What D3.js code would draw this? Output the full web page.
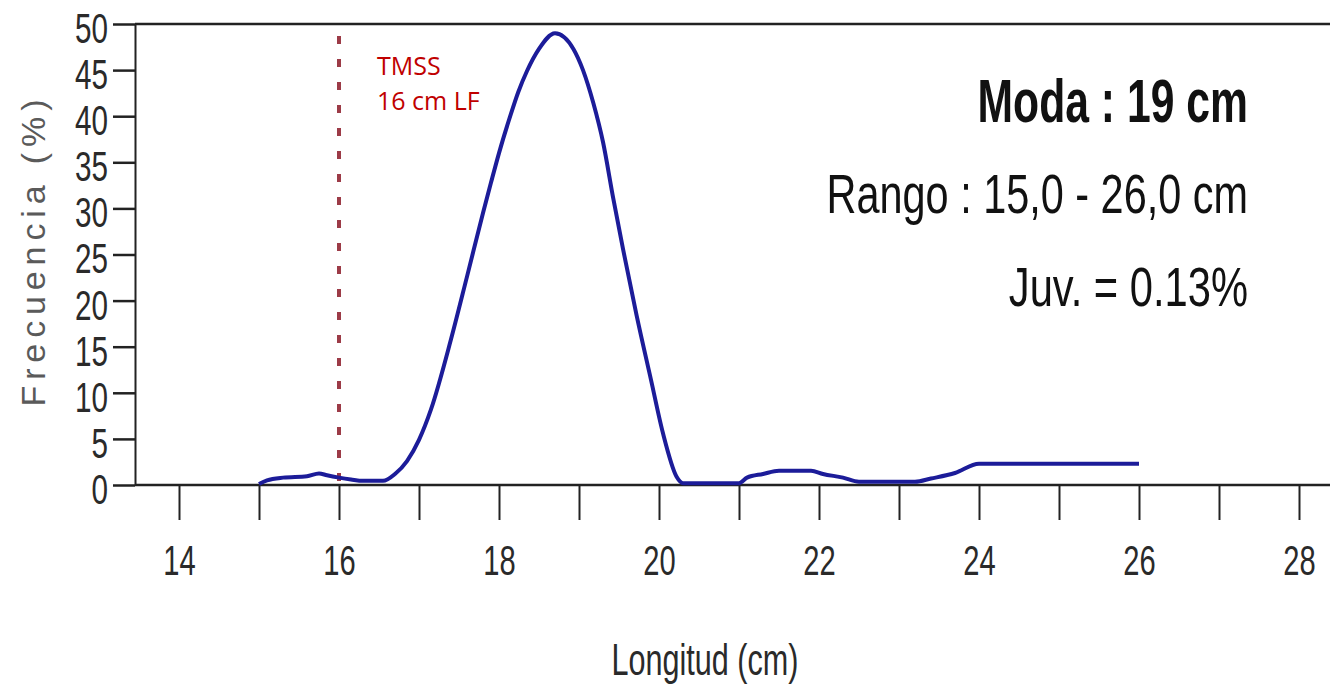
<!DOCTYPE html>
<html>
<head>
<meta charset="utf-8">
<script src="https://cdn.jsdelivr.net/npm/d3@7"></script>
<style>
  html, body { margin: 0; padding: 0; background: #ffffff; }
  svg { display: block; }
</style>
</head>
<body>
<svg id="chart" width="1330" height="685"></svg>
<script>
// ---- data ----
const lengths = [15.0, 15.1, 15.3, 15.6, 15.75, 15.85, 16.0, 16.15, 16.3, 16.55, 16.7, 16.85,
  17.0, 17.15, 17.4, 17.6, 17.8, 17.9, 18.0, 18.14, 18.24, 18.35, 18.5, 18.7, 18.93, 19.05,
  19.18, 19.3, 19.43, 19.55, 19.72, 19.9, 20.05, 20.22, 20.3, 21.0, 21.1, 21.3, 21.5, 21.9,
  22.05, 22.3, 22.5, 23.2, 23.4, 23.7, 24.0, 26.0];
const freqs = [0.1, 0.5, 0.8, 0.95, 1.25, 1.05, 0.8, 0.6, 0.45, 0.45, 1.2, 2.6,
  4.9, 8.2, 15.8, 22.6, 29.5, 32.8, 36.0, 40.0, 42.6, 44.9, 47.3, 49.0, 47.3, 45.0,
  41.4, 37.2, 31.0, 25.6, 18.4, 11.4, 5.6, 0.9, 0.2, 0.2, 0.8, 1.2, 1.55, 1.55,
  1.2, 0.8, 0.35, 0.35, 0.7, 1.3, 2.3, 2.3];
const yTicks = [0, 5, 10, 15, 20, 25, 30, 35, 40, 45, 50];
const xTicks = [14, 15, 16, 17, 18, 19, 20, 21, 22, 23, 24, 25, 26, 27, 28];
const xTickLabels = [14, 16, 18, 20, 22, 24, 26, 28];
const tmss = 16;
const tmssLabels = ["TMSS", "16 cm LF"];
const statLines = ["Moda : 19 cm", "Rango : 15,0 - 26,0 cm", "Juv. = 0.13%"];
const xTitle = "Longitud (cm)";
const yTitle = "Frecuencia (%)";

// ---- layout ----
const svg = d3.select("#chart");
const x = d3.scaleLinear().domain([14, 28]).range([179, 1299]);
const y = d3.scaleLinear().domain([0, 50]).range([485, 24]);
const axisX0 = 135, rightEdge = 1330;
const font = "'Liberation Sans', Arial, sans-serif";

function squeeze(sel, perChar) {
  sel.each(function () {
    const t = d3.select(this);
    const s = t.text();
    if (s.length) t.attr("textLength", perChar * s.length).attr("lengthAdjust", "spacingAndGlyphs");
  });
}

// top frame line
svg.append("line")
  .attr("x1", axisX0).attr("x2", rightEdge)
  .attr("y1", y(50)).attr("y2", y(50))
  .attr("stroke", "#222").attr("stroke-width", 2.5);

// baseline
svg.append("line")
  .attr("x1", axisX0).attr("x2", rightEdge)
  .attr("y1", y(0)).attr("y2", y(0))
  .attr("stroke", "#222").attr("stroke-width", 2.5);

// y axis
const gy = svg.append("g")
  .attr("transform", `translate(${axisX0},0)`)
  .call(d3.axisLeft(y).tickValues(yTicks).tickSizeInner(22).tickSizeOuter(0).tickPadding(5));
gy.select(".domain").attr("stroke", "#222").attr("stroke-width", 2);
gy.selectAll(".tick line").attr("stroke", "#222").attr("stroke-width", 2.5);
gy.selectAll(".tick text")
  .attr("font-family", font).attr("font-size", 42).attr("fill", "#2a2a2a")
  .attr("dy", "0.44em")
  .call(squeeze, 16.5);

// x axis
const gx = svg.append("g")
  .attr("transform", `translate(0,${y(0)})`)
  .call(d3.axisBottom(x).tickValues(xTicks).tickSizeInner(35).tickSizeOuter(0).tickPadding(25)
    .tickFormat(d => xTickLabels.includes(d) ? String(d) : ""));
gx.select(".domain").remove();
gx.selectAll(".tick line").attr("stroke", "#222").attr("stroke-width", 2);
gx.selectAll(".tick text")
  .attr("font-family", font).attr("font-size", 42).attr("fill", "#2a2a2a")
  .call(squeeze, 16.2);

// TMSS dashed line
svg.append("line")
  .attr("x1", x(tmss)).attr("x2", x(tmss))
  .attr("y1", 36).attr("y2", y(0))
  .attr("stroke", "#9c3b47").attr("stroke-width", 4)
  .attr("stroke-dasharray", "8,15");

// curve
const pts = lengths.map((l, i) => [l, freqs[i]]);
const line = d3.line().x(d => x(d[0])).y(d => y(d[1])).curve(d3.curveMonotoneX);
svg.append("path")
  .datum(pts)
  .attr("d", line)
  .attr("fill", "none")
  .attr("stroke", "#1c1c99")
  .attr("stroke-width", 4)
  .attr("stroke-linejoin", "round");

// TMSS labels
svg.selectAll(".tmss")
  .data(tmssLabels)
  .enter().append("text")
  .attr("class", "tmss")
  .attr("x", 377)
  .attr("y", (d, i) => 75 + i * 35)
  .attr("font-family", "'Open Sans', 'Noto Sans', sans-serif")
  .attr("font-size", 25)
  .attr("fill", "#c00000")
  .text(d => d);

// stats text (condensed via horizontal scale)
const statY = [122, 213, 306];
const statSize = [61, 56, 56];
const statScale = [0.70, 0.74, 0.745];
svg.selectAll(".stat")
  .data(statLines)
  .enter().append("text")
  .attr("class", "stat")
  .attr("transform", (d, i) => `translate(1248,${statY[i]}) scale(${statScale[i]},1)`)
  .attr("text-anchor", "end")
  .attr("font-family", font)
  .attr("font-size", (d, i) => statSize[i])
  .attr("font-weight", (d, i) => i === 0 ? "bold" : "normal")
  .attr("fill", "#111")
  .text(d => d);

// axis titles
svg.append("text")
  .attr("transform", "translate(705,675) scale(0.68,1)")
  .attr("text-anchor", "middle")
  .attr("font-family", font).attr("font-size", 45).attr("fill", "#2a2a2a")
  .text(xTitle);

svg.append("text")
  .attr("transform", "translate(45,253) rotate(-90)")
  .attr("text-anchor", "middle")
  .attr("font-family", font).attr("font-size", 34).attr("fill", "#5a5a5a")
  .attr("textLength", 307).attr("lengthAdjust", "spacing")
  .text(yTitle);
</script>
</body>
</html>
